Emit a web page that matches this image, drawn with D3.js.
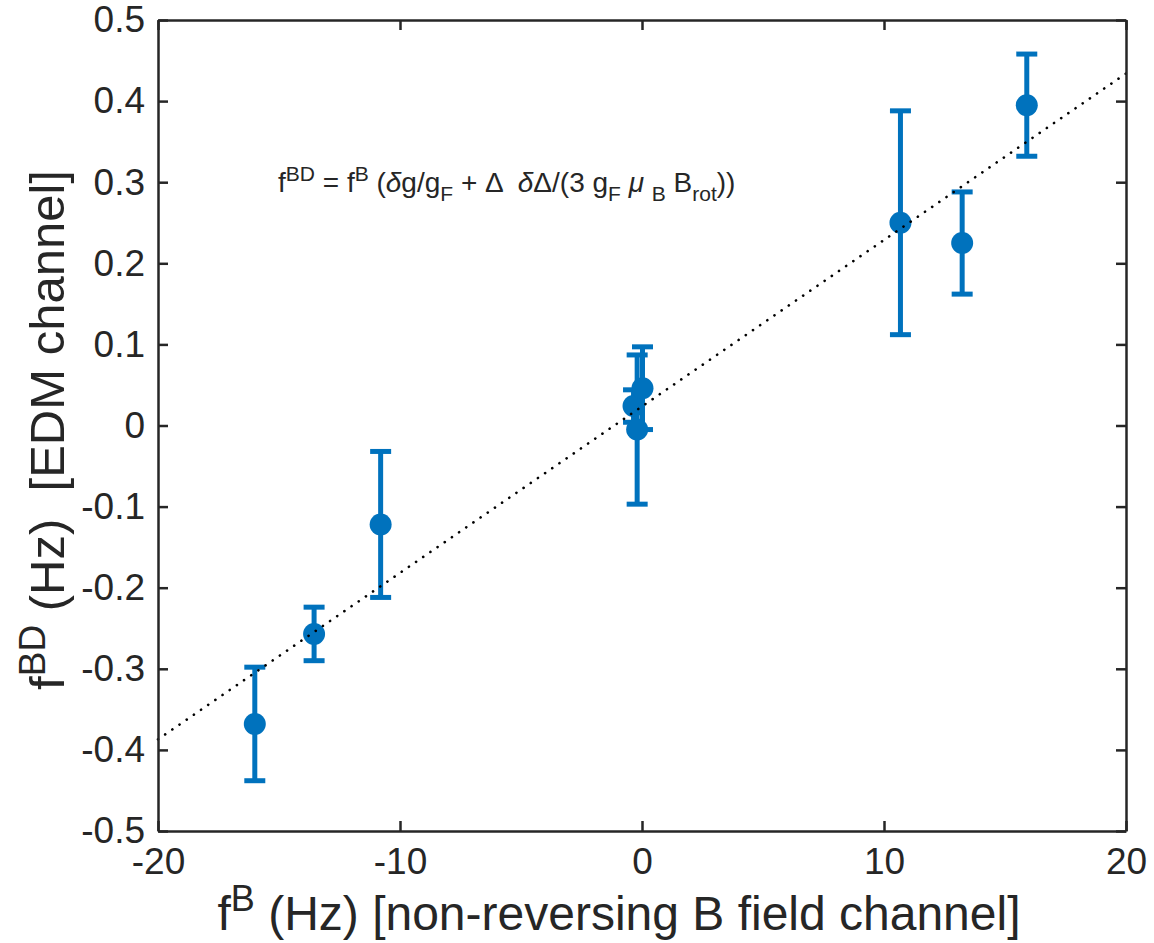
<!DOCTYPE html>
<html>
<head>
<meta charset="utf-8">
<script src="https://cdn.jsdelivr.net/npm/d3@7"></script>
<style>
  body { margin: 0; background: #fff; }
  text { font-family: "Liberation Sans", Arial, Helvetica, sans-serif; fill: #262626; white-space: pre; }
</style>
</head>
<body>
<div id="chart"></div>
<script>
// measured points: f^B (Hz), f^BD (Hz), error bar half-length
const fB  = [-16.0, -13.55, -10.8, -0.35, -0.2, 0.02, 10.68, 13.23, 15.9];
const fBD = [-0.368, -0.257, -0.122, 0.024, -0.005, 0.046, 0.25, 0.225, 0.395];
const fErr = [0.07, 0.033, 0.09, 0.02, 0.092, 0.051, 0.138, 0.063, 0.063];

// dotted fit line end points
const fitX = [-20, 20];
const fitY = [-0.387, 0.434];

const xTicks = [-20, -10, 0, 10, 20];
const yTicks = [-0.5, -0.4, -0.3, -0.2, -0.1, 0, 0.1, 0.2, 0.3, 0.4, 0.5];

const W = 1154, H = 943;
const margin = { top: 20, right: 28, bottom: 112, left: 158 };
const width = W - margin.left - margin.right;
const height = H - margin.top - margin.bottom;
const blue = "#0072BD";
const axisCol = "#262626";

const svg = d3.select("#chart").append("svg")
    .attr("width", W)
    .attr("height", H);

const g = svg.append("g")
    .attr("transform", "translate(" + margin.left + "," + margin.top + ")");

const x = d3.scaleLinear().domain([-20, 20]).range([0, width]);
const y = d3.scaleLinear().domain([-0.5, 0.5]).range([height, 0]);

const pts = fB.map((v, i) => ({ x: v, y: fBD[i], e: fErr[i] }));

// error bars
const eb = g.append("g");
eb.selectAll(".stem").data(pts).enter().append("line")
    .attr("x1", d => x(d.x)).attr("x2", d => x(d.x))
    .attr("y1", d => y(d.y + d.e)).attr("y2", d => y(d.y - d.e))
    .attr("stroke", blue).attr("stroke-width", 5);
const capW = 10.5;
eb.selectAll(".capTop").data(pts).enter().append("line")
    .attr("x1", d => x(d.x) - capW).attr("x2", d => x(d.x) + capW)
    .attr("y1", d => y(d.y + d.e)).attr("y2", d => y(d.y + d.e))
    .attr("stroke", blue).attr("stroke-width", 5);
eb.selectAll(".capBot").data(pts).enter().append("line")
    .attr("x1", d => x(d.x) - capW).attr("x2", d => x(d.x) + capW)
    .attr("y1", d => y(d.y - d.e)).attr("y2", d => y(d.y - d.e))
    .attr("stroke", blue).attr("stroke-width", 5);
eb.selectAll("circle").data(pts).enter().append("circle")
    .attr("cx", d => x(d.x)).attr("cy", d => y(d.y))
    .attr("r", 11).attr("fill", blue);

// dotted fit line on top
g.append("path")
    .datum(fitX.map((v, i) => [v, fitY[i]]))
    .attr("d", d3.line().x(d => x(d[0])).y(d => y(d[1])))
    .attr("fill", "none")
    .attr("stroke", "#000")
    .attr("stroke-width", 2.6)
    .attr("stroke-linecap", "round")
    .attr("stroke-dasharray", "0.1 8.6");

// axes box with inward ticks
const fmtY = d => d === 0 ? "0" : d3.format(".1f")(d).replace("−", "-");
const axB = g.append("g").attr("transform", "translate(0," + height + ")")
    .call(d3.axisBottom(x).tickValues(xTicks).tickSizeInner(-10).tickSizeOuter(0).tickPadding(17).tickFormat(d => String(d)));
const axT = g.append("g")
    .call(d3.axisTop(x).tickValues(xTicks).tickSizeInner(-10).tickSizeOuter(0).tickFormat(""));
const axL = g.append("g")
    .call(d3.axisLeft(y).tickValues(yTicks).tickSizeInner(-10).tickSizeOuter(0).tickPadding(13).tickFormat(fmtY));
const axR = g.append("g").attr("transform", "translate(" + width + ",0)")
    .call(d3.axisRight(y).tickValues(yTicks).tickSizeInner(-10).tickSizeOuter(0).tickFormat(""));

[axB, axT, axL, axR].forEach(a => {
    a.select(".domain").attr("stroke", axisCol).attr("stroke-width", 2.5);
    a.selectAll(".tick line").attr("stroke", axisCol).attr("stroke-width", 2.5);
    a.selectAll(".tick text").attr("font-size", 37).attr("fill", axisCol)
        .style("font-family", '"Liberation Sans", Arial, sans-serif');
});
axB.selectAll(".tick text").attr("dy", "0.71em");

// axis labels
const xl = svg.append("text")
    .attr("x", 619)
    .attr("y", 930)
    .attr("text-anchor", "middle")
    .attr("font-size", 48);
xl.append("tspan").text("f");
xl.append("tspan").attr("dy", -19).attr("font-size", 36).text("B");
xl.append("tspan").attr("dy", 19).text(" (Hz) [non-reversing B field channel]");

const yl = svg.append("text")
    .attr("transform", "translate(64,430) rotate(-90)")
    .attr("text-anchor", "middle")
    .attr("font-size", 49);
yl.append("tspan").text("f");
yl.append("tspan").attr("dy", -19).attr("font-size", 37).text("BD");
yl.append("tspan").attr("dy", 19).text(" (Hz)  [EDM channel]");

// formula annotation
const ann = g.append("text")
    .attr("x", 120)
    .attr("y", 172)
    .attr("font-size", 28);
// [text, level (-1 sup, 0 base, 1 sub), italic]
const parts = [
    ["f", 0], ["BD", -1], [" = f", 0], ["B", -1], [" (", 0], ["\u03B4", 0, 1], ["g/g", 0], ["F", 1],
    [" + \u0394  ", 0], ["\u03B4", 0, 1], ["\u0394/(3 g", 0], ["F", 1], [" ", 0], ["\u03BC", 0, 1], [" ", 0],
    ["B", 1], [" B", 0], ["rot", 1], ["))", 0]
];
let cur = 0;
parts.forEach(p => {
    const target = p[1] === -1 ? -11 : p[1] === 1 ? 9 : 0;
    ann.append("tspan")
        .attr("dy", target - cur)
        .attr("font-size", p[1] === 0 ? 28 : 21)
        .attr("font-style", p[2] ? "italic" : null)
        .text(p[0]);
    cur = target;
});
</script>
</body>
</html>
